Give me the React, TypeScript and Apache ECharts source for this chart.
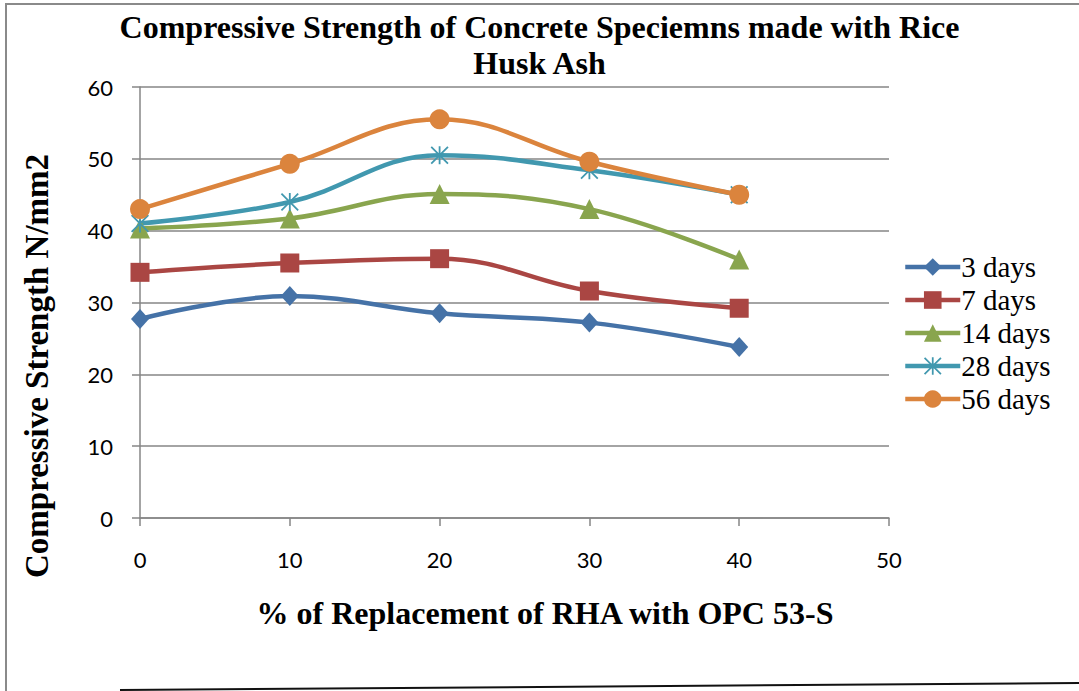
import React, { useEffect, useRef } from "react";
import * as echarts from "echarts";

const xValues = [0, 10, 20, 30, 40];
const seriesNames = ["3 days", "7 days", "14 days", "28 days", "56 days"];
const days3 = [27.7, 30.9, 28.5, 27.2, 23.8];
const days7 = [34.2, 35.5, 36.1, 31.6, 29.2];
const days14 = [40.3, 41.7, 45.1, 43.0, 36.0];
const days28 = [41.0, 44.0, 50.5, 48.4, 45.0];
const days56 = [43.0, 49.3, 55.5, 49.6, 45.0];
const colors = ["#4572A7", "#AA4643", "#89A54E", "#4198AF", "#DB843D"];
const titleText = "Compressive Strength of Concrete Speciemns made with Rice\nHusk Ash";
const yTitle = "Compressive Strength N/mm2";
const xTitle = "% of Replacement of RHA with OPC 53-S";

const STAR =
  "path://M9,0 L11,0 L11,20 L9,20 Z M0,1.4 L1.4,0 L20,18.6 L18.6,20 Z M18.6,0 L20,1.4 L1.4,20 L0,18.6 Z";

export default function App() {
  const ref = useRef<HTMLDivElement>(null);
  useEffect(() => {
    if (!ref.current) return;
    const chart = echarts.init(ref.current, null, { renderer: "svg" });
    const data = [days3, days7, days14, days28, days56];
    const symbols = ["diamond", "rect", "triangle", STAR, "circle"];
    const sizes: any[] = [[18, 20], 19, 20, 18, 20];
    const serif = "Liberation Serif";
    chart.setOption({
      animation: false,
      backgroundColor: "#ffffff",
      color: colors,
      title: {
        text: titleText,
        left: "center",
        top: 4,
        textStyle: {
          fontFamily: serif,
          fontWeight: "bold",
          fontSize: 32,
          lineHeight: 36,
          color: "#000",
        },
      },
      legend: {
        orient: "vertical",
        left: 898,
        top: 247,
        itemWidth: 55,
        itemHeight: 22,
        itemGap: 3,
        data: seriesNames,
        lineStyle: { width: 4.5 },
        textStyle: {
          fontFamily: serif,
          fontSize: 29,
          lineHeight: 30,
          color: "#000",
          padding: [0, 0, 0, -4],
        },
      },
      grid: { left: 140, right: 190, top: 87, bottom: 173 },
      xAxis: {
        type: "value",
        min: 0,
        max: 50,
        interval: 10,
        axisLine: { show: true, lineStyle: { color: "#868686", width: 1.5 } },
        axisTick: { show: true, length: 8, lineStyle: { color: "#868686", width: 1.5 } },
        axisLabel: { margin: 30, fontFamily: "Lato", fontSize: 22, color: "#000" },
        splitLine: { show: false },
      },
      yAxis: {
        type: "value",
        min: 0,
        max: 60,
        interval: 10,
        axisLine: { show: true, lineStyle: { color: "#868686", width: 1.5 } },
        axisTick: { show: true, length: 8, lineStyle: { color: "#868686", width: 1.5 } },
        axisLabel: { margin: 27, fontFamily: "Lato", fontSize: 22, color: "#000" },
        splitLine: { show: true, lineStyle: { color: "#868686", width: 1.5 } },
      },
      series: seriesNames.map((name, i) => ({
        name,
        type: "line",
        smooth: 0.4,
        data: xValues.map((x, j) => [x, data[i][j]]),
        symbol: symbols[i],
        symbolSize: sizes[i],
        symbolKeepAspect: true,
        lineStyle: { width: 4.5, color: colors[i] },
        itemStyle: { color: colors[i] },
      })),
      graphic: [
        {
          type: "text",
          x: 37,
          y: 366,
          rotation: Math.PI / 2,
          style: {
            text: yTitle,
            fontFamily: serif,
            fontWeight: "bold",
            fontSize: 33,
            fill: "#000",
            align: "center",
            verticalAlign: "middle",
          },
        },
        {
          type: "text",
          x: 545,
          y: 613,
          style: {
            text: xTitle,
            fontFamily: serif,
            fontWeight: "bold",
            fontSize: 32,
            fill: "#000",
            align: "center",
            verticalAlign: "middle",
          },
        },
        {
          type: "polyline",
          shape: { points: [[6, 691], [6, 4], [1079, 4]] },
          style: { stroke: "#8a8a8a", lineWidth: 2, fill: null },
        },
        {
          type: "line",
          shape: { x1: 120, y1: 690, x2: 1079, y2: 683 },
          style: { stroke: "#111", lineWidth: 2 },
        },
      ],
    });
    return () => chart.dispose();
  }, []);
  return (
    <div
      ref={ref}
      style={{ position: "fixed", left: 0, top: 0, width: 1079, height: 691 }}
    />
  );
}
